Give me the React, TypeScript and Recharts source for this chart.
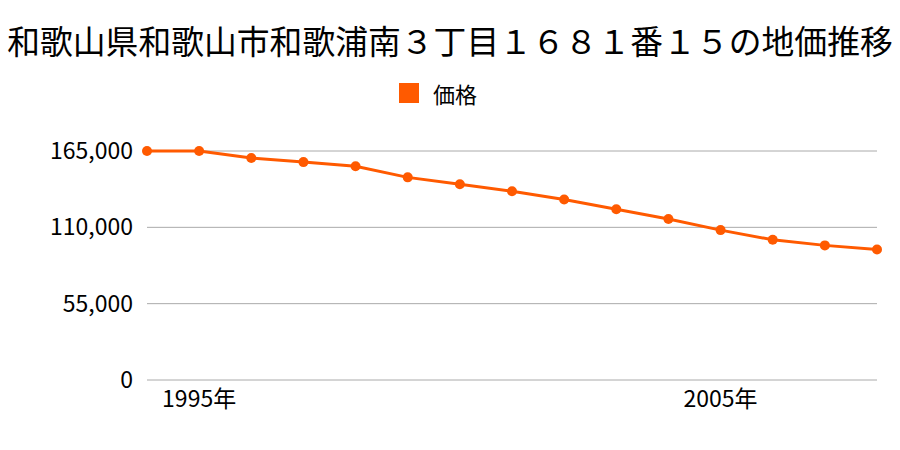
import { LineChart, Line, XAxis, YAxis, CartesianGrid, Legend } from "recharts";

const years = [1994, 1995, 1996, 1997, 1998, 1999, 2000, 2001, 2002, 2003, 2004, 2005, 2006, 2007, 2008];
const prices = [165000, 165000, 160000, 157000, 154000, 146000, 141000, 136000, 130000, 123000, 116000, 108000, 101000, 97000, 94000];
const yTicks = [0, 55000, 110000, 165000];
const xTicks = [1995, 2005];

const title = "和歌山県和歌山市和歌浦南３丁目１６８１番１５の地価推移";
const seriesName = "価格";
const color = "#ff5a00";
const font = "'Noto Sans CJK JP', 'Noto Sans', sans-serif";

const data = years.map((y, i) => ({ year: y, price: prices[i] }));

const fmt = (n: number) => n.toLocaleString("en-US");

// legend sits above the plot, so the top margin leaves room for it
const legendH = 28;

function LegendBox() {
  return (
    <div style={{ height: legendH, display: "flex", justifyContent: "center", alignItems: "center", paddingRight: 24, fontFamily: font, fontSize: 22, color: "#000" }}>
      <span style={{ display: "inline-block", width: 20, height: 20, background: color, marginRight: 14 }} />
      <span>{seriesName}</span>
    </div>
  );
}

export default function App() {
  return (
    <div style={{ position: "absolute", left: 0, top: 0, width: 900, height: 450, background: "#fff", fontFamily: font }}>
      <div style={{ position: "absolute", left: 0, top: 20, width: 900, textAlign: "center", fontSize: 32.8, color: "#000", whiteSpace: "nowrap", lineHeight: "40px" }}>
        {title}
      </div>
      <LineChart width={900} height={450} data={data} margin={{ top: 151 - legendH, right: 23, bottom: 0, left: 0 }}>
        <Legend verticalAlign="top" content={() => <LegendBox />} wrapperStyle={{ top: 79, left: 0, width: 900 }} />
        <CartesianGrid vertical={false} stroke="#aaaaaa" strokeWidth={1} />
        <XAxis
          dataKey="year"
          type="number"
          domain={[1994, 2008]}
          ticks={xTicks}
          tickFormatter={(v: number) => `${v}年`}
          axisLine={false}
          tickLine={false}
          tickSize={0}
          tickMargin={11}
          height={70}
          tick={{ fill: "#000", fontSize: 23, fontFamily: font }}
        />
        <YAxis
          domain={[0, 165000]}
          ticks={yTicks}
          tickFormatter={fmt}
          axisLine={false}
          tickLine={false}
          tickSize={0}
          tickMargin={14}
          width={147}
          tick={{ fill: "#000", fontSize: 23, fontFamily: font }}
        />
        <Line
          dataKey="price"
          name={seriesName}
          stroke={color}
          strokeWidth={3}
          dot={{ r: 5, fill: color, stroke: color, strokeWidth: 0 }}
          activeDot={false}
          isAnimationActive={false}
        />
      </LineChart>
    </div>
  );
}
